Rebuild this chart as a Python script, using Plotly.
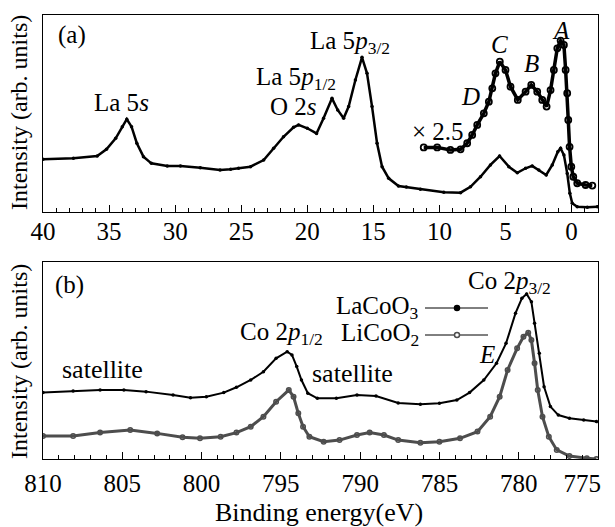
import plotly.graph_objects as go

# ---------------- data (panel a) ----------------
a_energy = [40, 37.7, 35.9, 35.2, 34.5, 34.0, 33.66, 33.3, 32.9, 32.4, 31.8, 30.6, 29.6, 28.1,
            26.6, 25.8, 25.2, 24.3, 23.3, 22.55, 21.8, 21.04, 20.66, 20.0, 19.3, 18.77, 18.13,
            17.7, 17.25, 16.87, 16.36, 15.86, 15.48, 15.1, 14.72, 14.34, 13.84, 13.1, 12.5,
            11.44, 9.67, 8.4, 7.65, 6.89, 6.14, 5.45, 4.75, 4.11, 3.48, 2.98, 2.48, 1.92, 1.46,
            1.04, 0.83, 0.58, 0.33, 0.13, -0.05, -0.43, -1.19, -1.95]
a_intensity = [26.8, 27.3, 28.4, 31.8, 37.4, 43.3, 47.1, 43.3, 34.9, 28.1, 24.7, 23.4, 23.4, 22.5,
               21.3, 21.7, 22.2, 23.0, 26.4, 32.3, 38.2, 43.0, 44.2, 42.5, 39.9, 47.6, 57.7,
               51.8, 47.6, 53.5, 67.0, 78.5, 70.4, 53.5, 34.9, 23.0, 17.1, 13.2, 12.7,
               11.5, 10.0, 9.8, 12.8, 17.9, 23.9, 28.4, 23.0, 19.9, 22.2, 23.4, 21.3, 18.8, 23.9,
               30.6, 32.3, 28.9, 19.6, 9.5, 4.4, 2.7, 2.4, 2.7]

x25_energy = [11.19, 10.17, 9.17, 8.4, 7.9, 7.52, 7.14, 6.64, 6.26, 6.0, 5.76, 5.43, 5.0, 4.62,
              4.07, 3.48, 3.05, 2.6, 2.22, 1.89, 1.59, 1.34, 1.08, 0.83, 0.58, 0.45, 0.33, 0.25,
              0.15, 0.02, -0.13, -0.43, -1.06, -1.57]
x25_intensity = [32.8, 32.8, 31.5, 31.8, 34.9, 39.1, 44.2, 50.1, 56.0, 62.8, 70.4, 76.3, 72.1, 63.6,
                 56.9, 61.1, 64.5, 61.1, 56.9, 53.5, 61.9, 72.1, 83.1, 87.0, 84.8, 72.1, 60.3, 46.7,
                 33.1, 23.0, 17.9, 14.6, 13.7, 13.4]

# ---------------- data (panel b) ----------------
la_energy = [810, 808.1, 806.4, 804.9, 803.5, 801.8, 800.7, 799.7, 798.6, 797.8, 796.9, 796.1,
             795.3, 794.6, 794.3, 794.0, 793.7, 793.3, 792.7, 791.5, 790.2, 789.0, 787.6, 786.2,
             785.0, 783.9, 783.1, 782.2, 781.4, 780.8, 780.2, 779.8, 779.5, 779.2, 779.0, 778.7,
             778.4, 778.0, 777.5, 776.8, 775.9, 775.1]
la_intensity = [33.7, 34.5, 35.0, 35.0, 34.2, 32.5, 31.1, 31.6, 33.7, 36.4, 40.1, 44.3,
                51.1, 54.5, 52.8, 46.9, 40.1, 33.4, 30.8, 30.8, 32.5, 32.0, 28.4, 27.8,
                28.3, 29.9, 33.7, 40.1, 48.6, 58.7, 74.0, 81.6, 83.8, 79.8, 68.9, 53.7,
                36.7, 26.6, 22.3, 20.7, 19.8, 19.0]

li_energy = [810, 808.1, 806.4, 804.5, 802.8, 801.2, 800.1, 798.8, 797.8, 796.9, 796.1, 795.3,
             794.5, 794.2, 793.9, 793.6, 793.2, 792.3, 791.3, 790.2, 789.4, 788.5, 787.6, 786.2,
             785.0, 783.7, 782.6, 781.8, 781.2, 780.7, 780.1, 779.7, 779.4, 779.2, 779.0, 778.8,
             778.5, 778.1, 777.6, 776.8, 775.7, 775.1]
li_intensity = [11.7, 11.7, 13.4, 14.7, 13.0, 11.0, 10.5, 11.3, 13.4, 16.4, 21.5, 29.1,
                35.0, 31.6, 23.2, 16.4, 11.3, 8.8, 9.6, 12.2, 13.4, 12.2, 9.6, 8.3,
                8.8, 10.5, 13.9, 21.5, 31.6, 45.2, 56.2, 62.1, 64.1, 60.4, 48.6, 35.0,
                21.5, 11.3, 4.6, 1.5, 0.4, 0.0]

top_ticks = [40, 35, 30, 25, 20, 15, 10, 5, 0]
bot_ticks = [810, 805, 800, 795, 790, 785, 780, 775]
bot_labels = ["810", "805", "800", "795", "790", "785", "780", "775"]

FONT = "Liberation Serif"
GREY = "#4d4d4d"

fig = go.Figure()
fig.add_trace(go.Scatter(x=a_energy, y=a_intensity, mode="lines+markers",
                         line=dict(color="black", width=2.5),
                         marker=dict(symbol="circle", size=3.5, color="black"),
                         xaxis="x", yaxis="y", showlegend=False))
fig.add_trace(go.Scatter(x=x25_energy, y=x25_intensity, mode="lines+markers",
                         line=dict(color="black", width=3.5),
                         marker=dict(symbol="circle-open", size=6, color="black",
                                     line=dict(width=1.8, color="black")),
                         xaxis="x", yaxis="y", showlegend=False))
fig.add_trace(go.Scatter(x=la_energy, y=la_intensity, mode="lines+markers",
                         line=dict(color="black", width=2),
                         marker=dict(symbol="circle", size=3.5, color="black"),
                         xaxis="x2", yaxis="y2", showlegend=False))
fig.add_trace(go.Scatter(x=li_energy, y=li_intensity, mode="lines+markers",
                         line=dict(color=GREY, width=3),
                         marker=dict(symbol="circle-open", size=4.5, color=GREY,
                                     line=dict(width=1.5, color=GREY)),
                         xaxis="x2", yaxis="y2", showlegend=False))

L, R, T, B = 43, 17, 15, 68
W, H = 615, 527
PW, PH = W - L - R, H - T - B


def px(x):
    return (x - L) / PW


def py(y):
    return (H - B - y) / PH


# the last bottom label sits pulled inside the frame, as in the original
bot_text = bot_labels[:-1] + [bot_labels[-1] + "\u2003\u00a0"]

xaxis_common = dict(ticks="inside", ticklen=7, tickwidth=1, tickcolor="black",
                    showline=True, linecolor="black", linewidth=1, mirror=True,
                    showgrid=False, zeroline=False, ticklabeloverflow="allow", automargin=False,
                    tickfont=dict(family=FONT, size=25, color="black"),
                    minor=dict(dtick=1, ticks="inside", ticklen=4, tickcolor="black", showgrid=False))
yaxis_common = dict(showticklabels=False, ticks="", showline=True, linecolor="black", linewidth=1,
                    mirror=True, showgrid=False, zeroline=False, automargin=False, range=[0, 100])

fig.update_layout(
    width=W, height=H, margin=dict(l=L, r=R, t=T, b=B, autoexpand=False),
    paper_bgcolor="white", plot_bgcolor="white",
    font=dict(family=FONT, size=25, color="black"),
    xaxis=dict(domain=[0, 1], anchor="y", range=[40.001, -2], tickvals=top_ticks,
               ticklabelstandoff=-3, **xaxis_common),
    yaxis=dict(domain=[py(212), 1], anchor="x", **yaxis_common),
    xaxis2=dict(domain=[0, 1], anchor="y2", range=[810.001, 774.999], tickvals=bot_ticks,
                ticktext=bot_text, ticklabelstandoff=2, **xaxis_common),
    yaxis2=dict(domain=[0, py(262)], anchor="x2", **yaxis_common),
)

ann = []


def add(text, x, y, xanchor="center", size=25, angle=0):
    ann.append(dict(text=text, x=px(x), y=py(y), xref="paper", yref="paper", showarrow=False,
                    xanchor=xanchor, yanchor="middle", textangle=angle,
                    font=dict(family=FONT, size=size, color="black")))


add("(a)", 72, 35)
add("La 5<i>s</i>", 121, 102)
add("La 5<i>p</i><sub>1/2</sub>", 296, 79)
add("O 2<i>s</i>", 293, 106)
add("La 5<i>p</i><sub>3/2</sub>", 350, 42)
add("<i>C</i>", 499, 44)
add("<i>B</i>", 531, 63)
add("<i>A</i>", 561, 31)
add("<i>D</i>", 470, 96)
add("× 2.5", 438, 131)

add("(b)", 69, 285)
add("satellite", 102, 369, size=26)
add("Co 2<i>p</i><sub>1/2</sub>", 281, 333)
add("satellite", 352, 373, size=26)
add("Co 2<i>p</i><sub>3/2</sub>", 509, 282)
add("<i>E</i>", 487, 354)
add("LaCoO<sub>3</sub>", 421, 307, xanchor="right")
add("LiCoO<sub>2</sub>", 421, 334, xanchor="right")

add("Intensity (arb. units)", 19, 113, angle=-90, size=24)
add("Intensity (arb. units)", 19, 362, angle=-90, size=24)
add("Binding energy(eV)", 319, 512, size=26)

shapes = []
for yy, col, fill in [(308, "black", "black"), (335, GREY, "white")]:
    shapes.append(dict(type="line", xref="paper", yref="paper", x0=px(425), x1=px(488),
                       y0=py(yy), y1=py(yy), line=dict(color="black", width=1)))
    shapes.append(dict(type="circle", xref="paper", yref="paper",
                       x0=px(454.5), x1=px(459.5), y0=py(yy + 2.5), y1=py(yy - 2.5),
                       line=dict(color=col, width=1.5), fillcolor=fill))

fig.update_layout(annotations=ann, shapes=shapes)
fig.write_html("out.html", config={"displayModeBar": False},
               post_script="document.body.style.margin='0';document.body.style.overflow='hidden';")
